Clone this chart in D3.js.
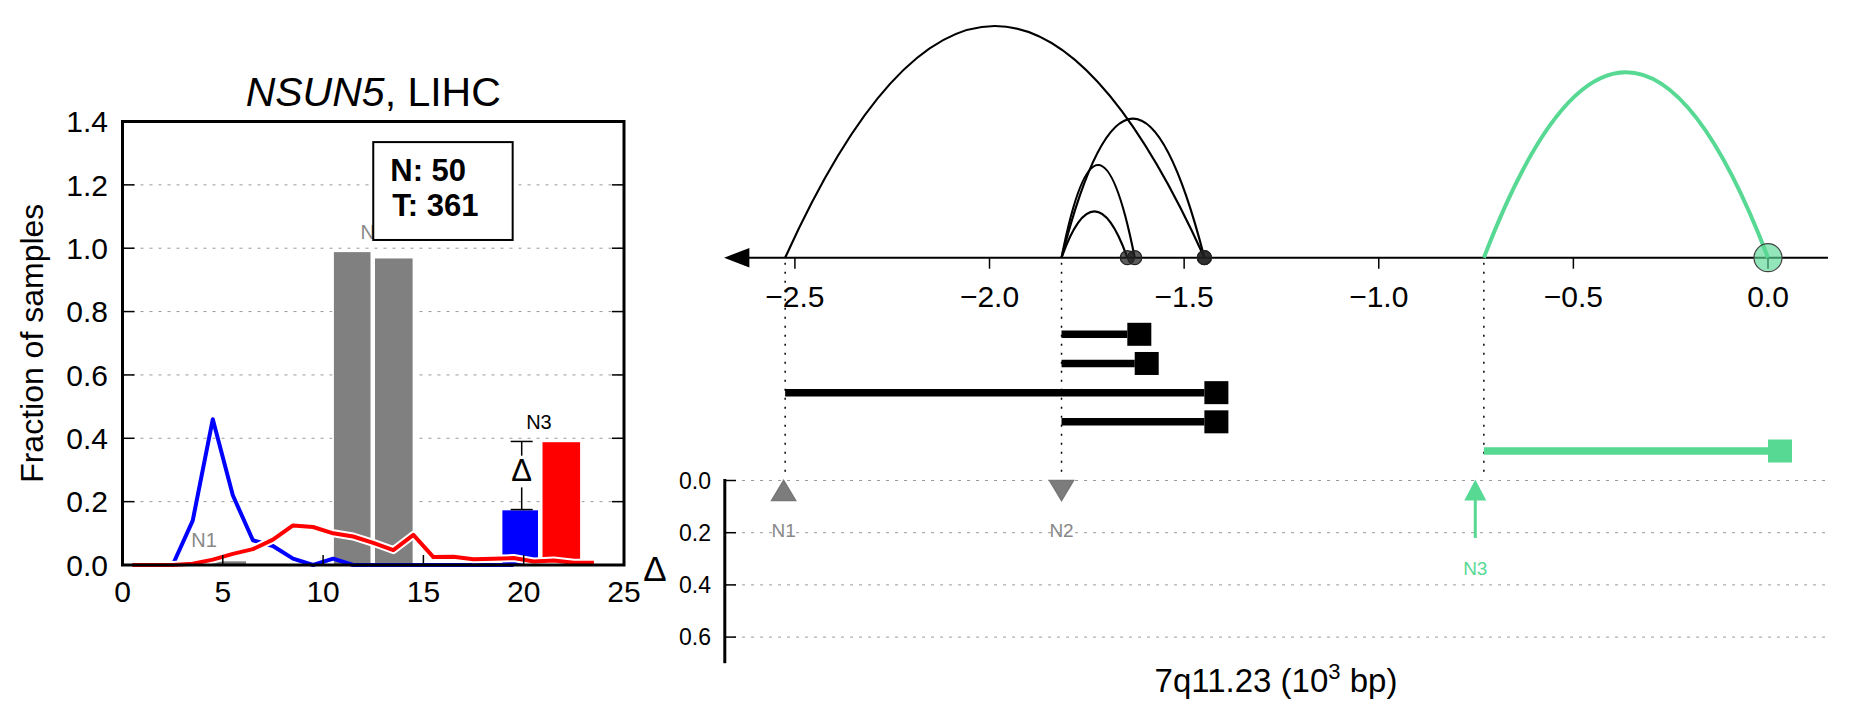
<!DOCTYPE html>
<html><head><meta charset="utf-8">
<script src="https://cdn.jsdelivr.net/npm/d3@7/dist/d3.min.js"></script>
<style>
body{margin:0;background:#fff}
svg{display:block;font-family:"Liberation Sans",Arial,Helvetica,sans-serif}
</style>
</head><body>
<svg id="c" width="1851" height="718"></svg>
<script>
// ---------------- DATA ----------------
// Left panel: copy-number histogram (fraction of samples)
const binX       = [0.5,1.5,2.5,3.5,4.5,5.5,6.5,7.5,8.5,9.5,10.5,11.5,12.5,13.5,14.5,15.5,16.5,17.5,18.5,19.5,20.5,21.5,22.5,23.5];
const normalFrac = [0,0,0,0.14,0.46,0.22,0.078,0.06,0.02,0.0,0.02,0.0,0,0,0,0,0,0,0,0];
const tumorFrac  = [0,0,0,0.004,0.017,0.035,0.05,0.08,0.125,0.12,0.1,0.09,0.07,0.047,0.095,0.025,0.026,0.018,0.02,0.022,0.011,0.014,0.007,0.007];
const barLeft    = [4.2, 10.5, 12.55, 18.9, 20.9];
const barRight   = [6.2, 12.4, 14.5, 20.75, 22.85];
const barHeight  = [0.014, 0.99, 0.97, 0.175, 0.39];
const barGroup   = ["N","N","N","normal","tumor"];
const regionNames = ["N1","N2","N3"];
const regionLabelX = [4.07, 12.5, 20.76];
const regionLabelY = [0.079, 1.05, 0.45];
const deltaX = 19.9, deltaLo = 0.175, deltaHi = 0.39;
const sampleCounts = ["N: 50","T: 361"];
const leftXTicks = [0,5,10,15,20,25];
const leftYTicks = [0,0.2,0.4,0.6,0.8,1.0,1.2,1.4];

// Right panel: genomic arcs / reads (10^3 bp)
const arcStart  = [-2.525, -1.815, -1.815, -1.815, -0.73];
const arcEnd    = [-1.448, -1.448, -1.627, -1.646, 0.0];
const arcHeight = [1.0, 0.6, 0.4, 0.2, 0.8];
const arcFocus  = [false,false,false,false,true];
const readStart = [-1.815, -1.815, -2.525, -1.815, -0.73];
const readEnd   = [-1.646, -1.627, -1.448, -1.448, 0.0];
const readFocus = [false,false,false,false,true];
const guidePos  = [-2.525, -1.815, -0.73];
const markerPos   = [-2.529, -1.815, -0.752];
const markerDelta = [0, 0, 0.22];
const markerType  = ["up","down","arrow"];
const rightXTicks = [-2.5,-2.0,-1.5,-1.0,-0.5,0.0];
const deltaTicks  = [0.0,0.2,0.4,0.6];

// ---------------- STYLE ----------------
const GREEN = "#57d993", GRAY = "#808080";
const groupColor = {N: GRAY, normal: "#0000ff", tumor: "#ff0000"};
const svg = d3.select("#c");

// ---------------- LEFT PANEL ----------------
const xL = d3.scaleLinear().domain([0,25]).range([122.5,624]);
const yL = d3.scaleLinear().domain([0,1.4]).range([565,121.5]);
const L = svg.append("g");

L.selectAll("line.grid").data(leftYTicks.filter(d=>d>0 && d<1.4)).join("line")
  .attr("x1", xL(0)).attr("x2", xL(25)).attr("y1", d=>yL(d)).attr("y2", d=>yL(d))
  .attr("stroke","#999").attr("stroke-width",1).attr("stroke-dasharray","3,6");

L.selectAll("rect.bar").data(barHeight).join("rect")
  .attr("x",(d,i)=>xL(barLeft[i])).attr("width",(d,i)=>xL(barRight[i])-xL(barLeft[i]))
  .attr("y",d=>yL(d)).attr("height",d=>yL(0)-yL(d))
  .attr("fill",(d,i)=>groupColor[barGroup[i]]).attr("stroke","#fff").attr("stroke-width",1.5);

const lineL = d3.line().x(d=>xL(d[0])).y(d=>yL(d[1]));
const normPts = normalFrac.map((v,i)=>[binX[i],v]);
const tumPts  = tumorFrac.map((v,i)=>[binX[i],v]);
L.append("path").attr("d",lineL(normPts)).attr("fill","none").attr("stroke","#0000ff").attr("stroke-width",4).attr("stroke-linejoin","round");
L.append("path").attr("d",lineL(tumPts)).attr("fill","none").attr("stroke","#fff").attr("stroke-width",8).attr("stroke-linejoin","round");
L.append("path").attr("d",lineL(tumPts)).attr("fill","none").attr("stroke","#ff0000").attr("stroke-width",4).attr("stroke-linejoin","round");

// region labels
L.selectAll("text.reg").data(regionNames).join("text")
  .attr("x",(d,i)=>xL(regionLabelX[i])).attr("y",(d,i)=>yL(regionLabelY[i]))
  .attr("dy","0.35em").attr("text-anchor","middle").attr("font-size",20)
  .attr("fill",(d,i)=>i<2?"#888":"#000").text(d=>d);

// delta error bar
const dx = xL(deltaX);
L.append("line").attr("x1",dx).attr("x2",dx).attr("y1",yL(deltaHi)).attr("y2",yL(deltaLo)).attr("stroke","#000").attr("stroke-width",1.5);
[deltaHi,deltaLo].forEach(v=>L.append("line").attr("x1",dx-11).attr("x2",dx+11).attr("y1",yL(v)).attr("y2",yL(v)).attr("stroke","#000").attr("stroke-width",1.5));
L.append("rect").attr("x",dx-13).attr("width",26).attr("y",yL(0.345)).attr("height",yL(0.245)-yL(0.345)).attr("fill","#fff");
L.append("text").attr("x",dx).attr("y",yL(0.3)).attr("dy","0.36em").attr("text-anchor","middle").attr("font-size",31).text("Δ");

// sample count box
L.append("rect").attr("x",xL(12.5)).attr("y",yL(1.335)).attr("width",xL(19.45)-xL(12.5)).attr("height",yL(1.026)-yL(1.335))
  .attr("fill","#fff").attr("stroke","#000").attr("stroke-width",2);
L.selectAll("text.cnt").data(sampleCounts).join("text")
  .attr("x",(d,i)=>xL([13.35,13.45][i])).attr("y",(d,i)=>[181,216][i]).attr("font-size",31).attr("font-weight","bold").text(d=>d);

// frame + ticks
L.append("rect").attr("x",xL(0)).attr("y",yL(1.4)).attr("width",xL(25)-xL(0)).attr("height",yL(0)-yL(1.4))
  .attr("fill","none").attr("stroke","#000").attr("stroke-width",3);
leftYTicks.filter(d=>d>0&&d<1.4).forEach(v=>{
  L.append("line").attr("x1",xL(0)).attr("x2",xL(0)+12).attr("y1",yL(v)).attr("y2",yL(v)).attr("stroke","#000").attr("stroke-width",1.5);
  L.append("line").attr("x1",xL(25)).attr("x2",xL(25)-12).attr("y1",yL(v)).attr("y2",yL(v)).attr("stroke","#000").attr("stroke-width",1.5);
});
leftXTicks.filter(d=>d>0&&d<25).forEach(v=>{
  L.append("line").attr("x1",xL(v)).attr("x2",xL(v)).attr("y1",yL(0)).attr("y2",yL(0)-10).attr("stroke","#000").attr("stroke-width",1.5);
});
L.selectAll("text.yt").data(leftYTicks).join("text")
  .attr("x",108).attr("y",d=>yL(d)).attr("dy","0.36em").attr("text-anchor","end").attr("font-size",30).text(d3.format(".1f"));
L.selectAll("text.xt").data(leftXTicks).join("text")
  .attr("x",d=>xL(d)).attr("y",601.5).attr("text-anchor","middle").attr("font-size",30).text(d=>d);
L.append("text").attr("transform",`translate(43,${(yL(0)+yL(1.4))/2}) rotate(-90)`).attr("text-anchor","middle").attr("font-size",32).text("Fraction of samples");
const title = L.append("text").attr("x",(xL(0)+xL(25))/2).attr("y",106).attr("text-anchor","middle").attr("font-size",41);
title.append("tspan").attr("font-style","italic").text("NSUN5");
title.append("tspan").text(", LIHC");

// ---------------- RIGHT PANEL ----------------
const xR = d3.scaleLinear().domain([-2.5,0]).range([794.9,1768]);
const hA = d3.scaleLinear().domain([0,1]).range([0,231.7]);
const axisY = 257.7;
const yRead = d3.scaleLinear().domain([0,4]).range([334.3,451]);
const yD = d3.scaleLinear().domain([0,0.7]).range([480.5,663.2]);
const R = svg.append("g");

// delta panel grid
R.selectAll("line.dg").data(deltaTicks).join("line")
  .attr("x1",xR(-2.682)).attr("x2",xR(0.154)).attr("y1",d=>yD(d)).attr("y2",d=>yD(d))
  .attr("stroke","#999").attr("stroke-width",1).attr("stroke-dasharray","3,6");

// guides
R.selectAll("line.guide").data(guidePos).join("line")
  .attr("x1",d=>xR(d)).attr("x2",d=>xR(d)).attr("y1",axisY+5).attr("y2",472)
  .attr("stroke","#000").attr("stroke-width",1.5).attr("stroke-dasharray","2,7");

// axis line + arrow
R.append("line").attr("x1",xR(-2.62)).attr("x2",xR(0.154)).attr("y1",axisY).attr("y2",axisY).attr("stroke","#000").attr("stroke-width",2);
R.append("path").attr("d",`M${xR(-2.682)},${axisY} L${xR(-2.617)},${axisY-9.7} L${xR(-2.617)},${axisY+9.7} Z`).attr("fill","#000");
R.selectAll("line.xt").data(rightXTicks).join("line")
  .attr("x1",d=>xR(d)).attr("x2",d=>xR(d)).attr("y1",axisY).attr("y2",axisY+11).attr("stroke","#000").attr("stroke-width",1.5);
R.selectAll("text.xt").data(rightXTicks).join("text")
  .attr("x",d=>xR(d)).attr("y",307).attr("text-anchor","middle").attr("font-size",30).text(d3.format(".1f"));

// arcs
const arcPath = i => {
  const x0 = xR(arcStart[i]), x1 = xR(arcEnd[i]), h = hA(arcHeight[i]);
  return `M${x0},${axisY} Q${(x0+x1)/2},${axisY-2*h} ${x1},${axisY}`;
};
R.selectAll("path.arc").data(arcStart).join("path")
  .attr("d",(d,i)=>arcPath(i)).attr("fill","none")
  .attr("stroke",(d,i)=>arcFocus[i]?GREEN:"#000").attr("stroke-width",(d,i)=>arcFocus[i]?4:2.2);
R.selectAll("circle.end").data(arcEnd).join("circle")
  .attr("cx",d=>xR(d)).attr("cy",axisY).attr("r",(d,i)=>arcFocus[i]?14:7)
  .attr("fill",(d,i)=>arcFocus[i]?"rgba(87,217,147,0.65)":"rgba(30,30,30,0.72)")
  .attr("stroke",(d,i)=>arcFocus[i]?"#444":"#222").attr("stroke-width",1.2);

// reads
R.selectAll("line.read").data(readStart).join("line")
  .attr("x1",d=>xR(d)).attr("x2",(d,i)=>xR(readEnd[i])).attr("y1",(d,i)=>yRead(i)).attr("y2",(d,i)=>yRead(i))
  .attr("stroke",(d,i)=>readFocus[i]?GREEN:"#000").attr("stroke-width",7.5);
R.selectAll("rect.readEnd").data(readEnd).join("rect")
  .attr("x",d=>xR(d)).attr("y",(d,i)=>yRead(i)-11.5).attr("width",24).attr("height",23)
  .attr("fill",(d,i)=>readFocus[i]?GREEN:"#000");

// delta axis
R.append("line").attr("x1",724.8).attr("x2",724.8).attr("y1",yD(0)-1.5).attr("y2",yD(0.7)).attr("stroke","#000").attr("stroke-width",3);
R.selectAll("line.dt").data(deltaTicks).join("line")
  .attr("x1",724.8).attr("x2",736).attr("y1",d=>yD(d)).attr("y2",d=>yD(d)).attr("stroke","#000").attr("stroke-width",1.5);
R.selectAll("text.dt").data(deltaTicks).join("text")
  .attr("x",711).attr("y",d=>yD(d)).attr("dy","0.36em").attr("text-anchor","end").attr("font-size",23).text(d3.format(".1f"));
R.append("text").attr("x",655).attr("y",568).attr("dy","0.36em").attr("text-anchor","middle").attr("font-size",35).text("Δ");

// markers
markerPos.forEach((p,i)=>{
  const x = xR(p), y0 = yD(0);
  if (markerType[i]==="up") {
    R.append("path").attr("d",`M${x},${y0} L${x+12},${y0+20} L${x-12},${y0+20} Z`).attr("fill","rgba(110,110,110,0.9)").attr("stroke","#777").attr("stroke-width",1.5);
  } else if (markerType[i]==="down") {
    R.append("path").attr("d",`M${x-12},${y0} L${x+12},${y0} L${x},${y0+20} Z`).attr("fill","rgba(110,110,110,0.9)").attr("stroke","#777").attr("stroke-width",1.5);
  } else {
    R.append("line").attr("x1",x).attr("x2",x).attr("y1",y0+18).attr("y2",yD(markerDelta[i])).attr("stroke",GREEN).attr("stroke-width",3);
    R.append("path").attr("d",`M${x},${y0-1} L${x+11},${y0+20} L${x-11},${y0+20} Z`).attr("fill",GREEN);
  }
  const ly = Math.max(yD(markerDelta[i]), y0+20) + 30;
  R.append("text").attr("x",x).attr("y",ly).attr("dy","0.36em").attr("text-anchor","middle").attr("font-size",19)
    .attr("fill",markerType[i]==="arrow"?GREEN:"#888").text(regionNames[i]);
});

// x title
const xt = R.append("text").attr("x",(xR(-2.682)+xR(0.154))/2).attr("y",692).attr("text-anchor","middle").attr("font-size",33);
xt.append("tspan").text("7q11.23 (10");
xt.append("tspan").attr("dy",-13).attr("font-size",22).text("3");
xt.append("tspan").attr("dy",13).text(" bp)");
</script>
</body></html>
